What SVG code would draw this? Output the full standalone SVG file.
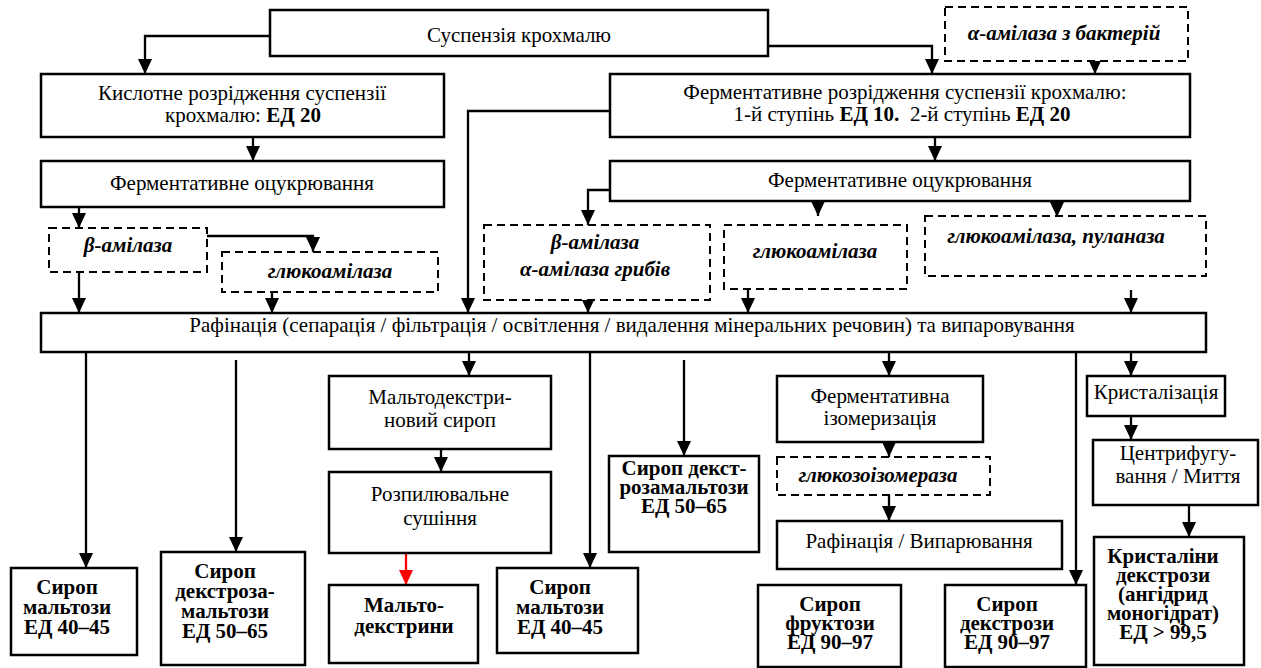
<svg xmlns="http://www.w3.org/2000/svg" width="1261" height="668" viewBox="0 0 1261 668" font-family="'Liberation Serif', 'Times New Roman', serif">
<defs>
<marker id="ah" markerUnits="userSpaceOnUse" markerWidth="16" markerHeight="16" refX="15" refY="7" orient="auto">
<path d="M0,0 L15,7 L0,14 z" fill="#000"/>
</marker>
<marker id="ahr" markerUnits="userSpaceOnUse" markerWidth="16" markerHeight="16" refX="15" refY="7" orient="auto">
<path d="M0,0 L15,7 L0,14 z" fill="#f00"/>
</marker>
<style>
.b{fill:#fff;stroke:#000;stroke-width:2.5}
.d{fill:#fff;stroke:#000;stroke-width:2;stroke-dasharray:8 5}
text{font-family:'Liberation Serif','Times New Roman',serif;font-size:21px;fill:#000;text-anchor:middle}
.bi{font-weight:bold;font-style:italic}
.bo{font-weight:bold}
.c{fill:none;stroke:#000;stroke-width:2.3;marker-end:url(#ah)}
.cr{fill:none;stroke:#f00;stroke-width:2.3;marker-end:url(#ahr)}
</style>
</defs>
<rect width="1261" height="668" fill="#fff"/>

<g id="connectors">
<polyline class="c" points="270,36 145,36 145,74"/>
<polyline class="c" points="768,46 932,46 932,74"/>
<line class="c" x1="1095" y1="61" x2="1095" y2="74"/>
<line class="c" x1="253" y1="137" x2="253" y2="161"/>
<line class="c" x1="935" y1="137" x2="935" y2="161"/>
<line class="c" x1="79" y1="207" x2="79" y2="228"/>
<polyline class="c" points="610,111 468,111 468,313"/>
<polyline class="c" points="610,190 588,190 588,225"/>
<line class="c" x1="818" y1="201" x2="818" y2="216"/>
<line class="c" x1="1057" y1="201" x2="1057" y2="217"/>
<polyline class="c" points="207,236 313,236 313,252"/>
<line class="c" x1="79" y1="272" x2="79" y2="313"/>
<line class="c" x1="272" y1="288" x2="272" y2="313"/>
<line class="c" x1="588" y1="300" x2="588" y2="313"/>
<line class="c" x1="748" y1="290" x2="748" y2="313"/>
<line class="c" x1="1131" y1="290" x2="1131" y2="313"/>
<line class="c" x1="86" y1="343" x2="86" y2="568"/>
<line class="c" x1="236" y1="360" x2="236" y2="552"/>
<line class="c" x1="469" y1="352" x2="469" y2="376"/>
<line class="c" x1="441" y1="440" x2="441" y2="472"/>
<line class="cr" x1="406" y1="553" x2="406" y2="585"/>
<line class="c" x1="590" y1="343" x2="590" y2="568"/>
<line class="c" x1="684" y1="360" x2="684" y2="456"/>
<line class="c" x1="889" y1="352" x2="889" y2="376"/>
<line class="c" x1="889" y1="439" x2="889" y2="457"/>
<line class="c" x1="889" y1="495" x2="889" y2="521"/>
<line class="c" x1="1076" y1="343" x2="1076" y2="585"/>
<line class="c" x1="1131" y1="352" x2="1131" y2="376"/>
<line class="c" x1="1131" y1="408" x2="1131" y2="440"/>
<line class="c" x1="1189" y1="503" x2="1189" y2="537"/>
</g>

<g id="n_susp"><rect class="b" x="270" y="10" width="498" height="46"/><text x="519" y="42">Суспензія крохмалю</text></g>
<g id="n_alpha_bact"><rect class="d" x="945" y="7" width="243" height="54"/><text class="bi" x="1064" y="40">α-амілаза з бактерій</text></g>
<g id="n_acid"><rect class="b" x="41" y="74" width="403" height="63"/><text x="242" y="100">Кислотне розрідження суспензії</text><text x="243" y="122">крохмалю: <tspan class="bo">ЕД 20</tspan></text></g>
<g id="n_enz_liq"><rect class="b" x="610" y="74" width="580" height="63"/><text x="905" y="99">Ферментативне розрідження суспензії крохмалю:</text><text x="902" y="121" xml:space="preserve">1-й ступінь <tspan class="bo">ЕД 10.</tspan>  2-й ступінь <tspan class="bo">ЕД 20</tspan></text></g>
<g id="n_sacch_left"><rect class="b" x="41" y="161" width="403" height="46"/><text x="242" y="190">Ферментативне оцукрювання</text></g>
<g id="n_sacch_right"><rect class="b" x="610" y="161" width="580" height="40"/><text x="900" y="187">Ферментативне оцукрювання</text></g>
<g id="n_beta_left"><rect class="d" x="49" y="228" width="158" height="44"/><text class="bi" x="128" y="252">β-амілаза</text></g>
<g id="n_gluco_left"><rect class="d" x="222" y="252" width="216" height="40"/><text class="bi" x="330" y="278">глюкоамілаза</text></g>
<g id="n_beta_alpha"><rect class="d" x="484" y="225" width="226" height="75"/><text class="bi" x="595" y="249">β-амілаза</text><text class="bi" x="595" y="276">α-амілаза грибів</text></g>
<g id="n_gluco_mid"><rect class="d" x="724" y="225" width="183" height="64"/><text class="bi" x="815" y="258">глюкоамілаза</text></g>
<g id="n_gluco_pull"><rect class="d" x="925" y="216" width="281" height="60"/><text class="bi" x="1056" y="243">глюкоамілаза, пуланаза</text></g>
<g id="n_refine"><rect class="b" x="41" y="313" width="1165" height="39"/><text x="632" y="332">Рафінація (сепарація / фільтрація / освітлення / видалення мінеральних речовин) та випаровування</text></g>
<g id="n_malt1"><rect class="b" x="11" y="568" width="126" height="87"/><text class="bo" x="67" y="594">Сироп</text><text class="bo" x="67" y="614">мальтози</text><text class="bo" x="67" y="634">ЕД 40–45</text></g>
<g id="n_dexmalt"><rect class="b" x="161" y="552" width="144" height="113"/><text class="bo" x="225" y="578">Сироп</text><text class="bo" x="225" y="598">декстроза-</text><text class="bo" x="225" y="618">мальтози</text><text class="bo" x="225" y="638">ЕД 50–65</text></g>
<g id="n_maltsyrup"><rect class="b" x="329" y="376" width="222" height="73"/><text x="440" y="404">Мальтодекстри-</text><text x="440" y="427">новий сироп</text></g>
<g id="n_spray"><rect class="b" x="329" y="472" width="222" height="81"/><text x="440" y="501">Розпилювальне</text><text x="440" y="525">сушіння</text></g>
<g id="n_maltodex"><rect class="b" x="329" y="585" width="149" height="78"/><text class="bo" x="404" y="612">Мальто-</text><text class="bo" x="404" y="633">декстрини</text></g>
<g id="n_malt2"><rect class="b" x="497" y="568" width="141" height="85"/><text class="bo" x="560" y="594">Сироп</text><text class="bo" x="560" y="614">мальтози</text><text class="bo" x="560" y="634">ЕД 40–45</text></g>
<g id="n_dexmalt2"><rect class="b" x="609" y="456" width="150" height="96"/><text class="bo" x="684" y="475">Сироп декст-</text><text class="bo" x="684" y="494">розамальтози</text><text class="bo" x="684" y="513">ЕД 50–65</text></g>
<g id="n_isom"><rect class="b" x="777" y="376" width="206" height="66"/><text x="880" y="403">Ферментативна</text><text x="880" y="425">ізомеризація</text></g>
<g id="n_gi"><rect class="d" x="777" y="457" width="213" height="38"/><text class="bi" x="878" y="482">глюкозоізомераза</text></g>
<g id="n_refevap"><rect class="b" x="777" y="521" width="285" height="48"/><text x="919" y="548">Рафінація / Випарювання</text></g>
<g id="n_fruct"><rect class="b" x="758" y="585" width="143" height="82"/><text class="bo" x="830" y="611">Сироп</text><text class="bo" x="830" y="630">фруктози</text><text class="bo" x="830" y="649">ЕД 90–97</text></g>
<g id="n_dexsyr"><rect class="b" x="945" y="585" width="141" height="82"/><text class="bo" x="1007" y="611">Сироп</text><text class="bo" x="1007" y="630">декстрози</text><text class="bo" x="1007" y="649">ЕД 90–97</text></g>
<g id="n_cryst"><rect class="b" x="1087" y="376" width="138" height="40"/><text x="1156" y="399">Кристалізація</text></g>
<g id="n_centr"><rect class="b" x="1093" y="440" width="165" height="65"/><text x="1178" y="460">Центрифугу-</text><text x="1178" y="483">вання / Миття</text></g>
<g id="n_crystals"><rect class="b" x="1094" y="537" width="150" height="128"/><text class="bo" x="1163" y="563">Кристаліни</text><text class="bo" x="1163" y="582">декстрози</text><text class="bo" x="1163" y="601">(ангідрид</text><text class="bo" x="1163" y="620">моногідрат)</text><text class="bo" x="1163" y="639">ЕД &gt; 99,5</text></g>
</svg>
